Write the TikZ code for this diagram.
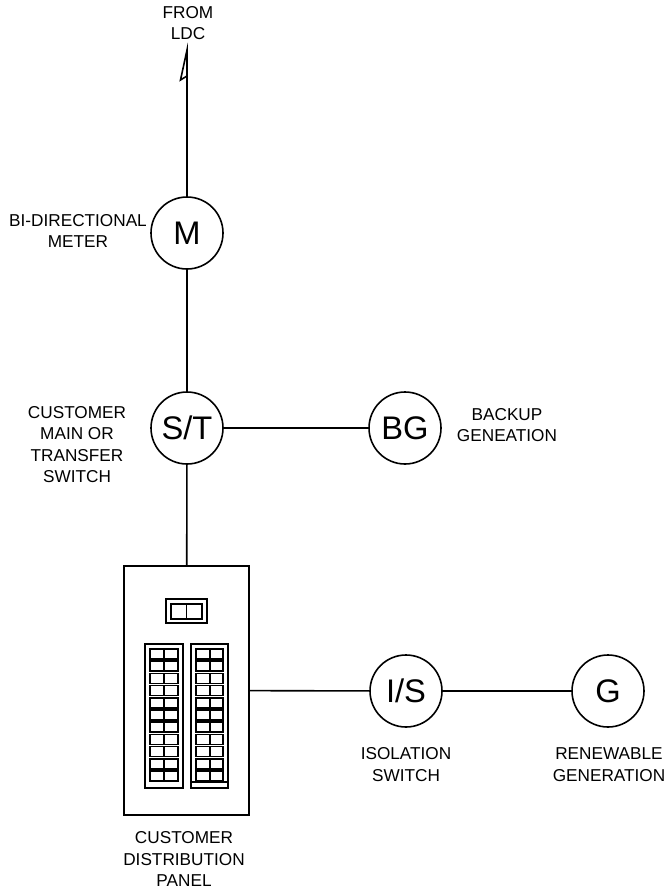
\documentclass[tikz,border=0pt]{standalone}
\usepackage{fontspec}
\setmainfont{Liberation Sans}
\begin{document}
\begin{tikzpicture}[x=0.75pt,y=-0.75pt,line width=1.2pt,
	dev/.style={draw,circle,minimum size=54pt,inner sep=0pt,font=\fontsize{24.5}{29}\selectfont},
	lbl/.style={align=center,inner sep=0pt,font=\fontsize{12.9}{16.1}\selectfont}]
	\useasboundingbox (0,0) rectangle (667,892);
	\def\rowh{12.2} % pas des disjoncteurs
	% appareils
	\node[dev] (M) at (187,233) {M};
	\node[dev] (ST) at (187,428) {S/T};
	\node[dev] (BG) at (405,428) {BG};
	\node[dev] (IS) at (406,691) {I/S};
	\node[dev] (G) at (608,691) {G};
	\node[draw,minimum width=93.75pt,minimum height=186.75pt,inner sep=0pt] (panel) at (186.5,690.5) {};
	% textes
	\node[lbl] (ldc) at (188,23) {FROM\\LDC};
	\node[lbl] (meter) at (78,231) {BI-DIRECTIONAL\\METER};
	\node[lbl] (main) at (77,444.5) {CUSTOMER\\MAIN OR\\TRANSFER\\SWITCH};
	\node[lbl] (backup) at (507,425) {BACKUP\\GENEATION};
	\node[lbl] (iso) at (406,764.5) {ISOLATION\\SWITCH};
	\node[lbl] (ren) at (609,764.5) {RENEWABLE\\GENERATION};
	\node[lbl] (dist) at (184,859) {CUSTOMER\\DISTRIBUTION\\PANEL};
	% liaisons
	\coordinate (top) at (187,50);
	\draw (M.north) -- (top) -- (180.5,80) -- (187,76);
	\draw (M) -- (ST);
	\draw (ST) -- (BG);
	\draw (ST) -- (panel);
	\draw (panel) -- (IS);
	\draw (IS) -- (G);
	% tableau
	\draw (166,599) rectangle (207,623);
	\draw (171,604) rectangle (202,619) (186.5,604) -- (186.5,619);
	\draw (145,644) rectangle (183,788);
	\draw (191,644) rectangle (228,788) (191,782) -- (228,782);
	\foreach \i in {0,...,10}{
		\draw (150,649+\i*\rowh) rectangle (178,659+\i*\rowh) (164,649+\i*\rowh) -- (164,659+\i*\rowh);
		\draw (196,649+\i*\rowh) rectangle (223,659+\i*\rowh) (210,649+\i*\rowh) -- (210,659+\i*\rowh);
	}
\end{tikzpicture}
\end{document}
